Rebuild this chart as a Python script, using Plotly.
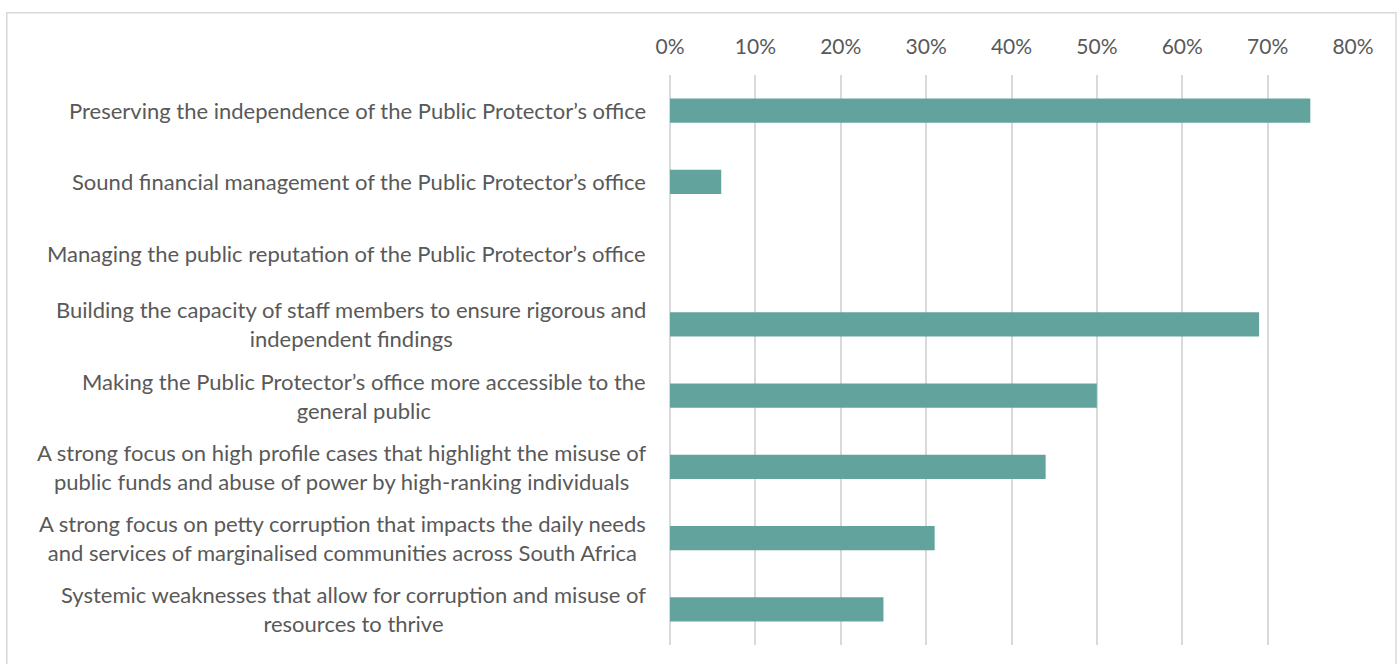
import plotly.graph_objects as go

categories = [
    "Preserving the independence of the Public Protector’s office",
    "Sound financial management of the Public Protector’s office",
    "Managing the public reputation of the Public Protector’s office",
    "Building the capacity of staff members to ensure rigorous and<br>independent findings",
    "Making the Public Protector’s office more accessible to the<br>general public",
    "A strong focus on high profile cases that highlight the misuse of<br>public funds and abuse of power by high-ranking individuals",
    "A strong focus on petty corruption that impacts the daily needs<br>and services of marginalised communities across South Africa",
    "Systemic weaknesses that allow for corruption and misuse of<br>resources to thrive",
]
values = [0.75, 0.06, 0.0, 0.69, 0.50, 0.44, 0.31, 0.25]
tick_vals = [0, 0.1, 0.2, 0.3, 0.4, 0.5, 0.6, 0.7, 0.8]
tick_text = ["0%", "10%", "20%", "30%", "40%", "50%", "60%", "70%", "80%"]

FONT = "Lato"
TXT = "#595959"

fig = go.Figure(go.Bar(
    x=values, y=categories, orientation="h",
    marker=dict(color="#63A39E", line=dict(width=0)),
    hoverinfo="x+y",
))

for c in categories:
    fig.add_annotation(
        x=0, xref="paper", y=c, yref="y", text=c, showarrow=False,
        xanchor="right", yanchor="middle", align="center", xshift=-22,
        font=dict(family=FONT, size=22, color=TXT),
    )

fig.update_layout(
    width=1399, height=664,
    margin=dict(l=670, r=46, t=75, b=19),
    paper_bgcolor="white", plot_bgcolor="white",
    bargap=0.66, showlegend=False,
    xaxis=dict(
        side="top", range=[0, 0.8], tickvals=tick_vals, ticktext=tick_text,
        showgrid=True, gridcolor="#D9D9D9", gridwidth=1.5,
        zeroline=True, zerolinecolor="#D9D9D9", zerolinewidth=1.5,
        showline=False, ticks="", ticklabelstandoff=16,
        tickfont=dict(family=FONT, size=21, color=TXT),
    ),
    yaxis=dict(
        categoryorder="array", categoryarray=categories, autorange="reversed",
        showticklabels=False, showgrid=False, zeroline=False, showline=False,
    ),
    shapes=[dict(
        type="rect", xref="paper", yref="paper",
        x0=-0.971, x1=1.063, y0=-0.04, y1=1.109,
        line=dict(color="#D9D9D9", width=1.5), fillcolor="rgba(0,0,0,0)", layer="below",
    )],
)

fig.write_html("out.html")
